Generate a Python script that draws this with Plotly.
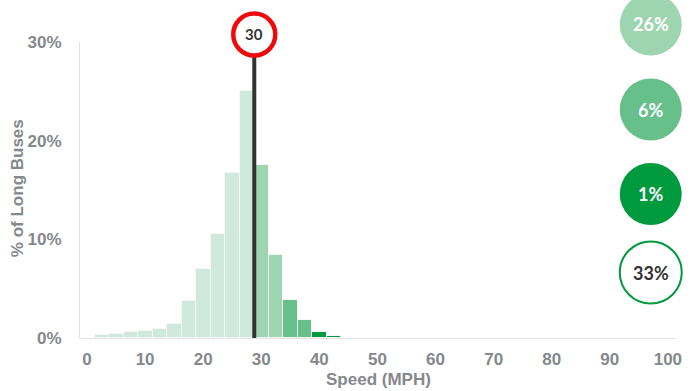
import plotly.graph_objects as go

# Speed distribution of long buses, 2.5 MPH bins
bin_start = [2.5, 5.0, 7.5, 10.0, 12.5, 15.0, 17.5, 20.0, 22.5, 25.0, 27.5,
             30.0, 32.5, 35.0, 37.5, 40.0, 42.5]
pct_buses = [0.34, 0.44, 0.64, 0.69, 0.93, 1.44, 3.8, 6.95, 10.5, 16.7, 25.0,
             17.5, 8.4, 3.9, 1.85, 0.63, 0.25]
BIN_WIDTH = 2.5
SPEED_LIMIT = 30

x_ticks = [0, 10, 20, 30, 40, 50, 60, 70, 80, 90, 100]
y_ticks = [0, 10, 20, 30]

# Over-the-limit bands: (low, high, colour)
bands = [(30, 35, "#9dd5b1"), (35, 40, "#67bf89"), (40, 45, "#009a3e")]
UNDER_COLOR = "#cfe9df"
GRAY = "#85888c"

def bar_color(start):
    for lo, hi, c in bands:
        if lo <= start < hi:
            return c
    return UNDER_COLOR

centers = [s + BIN_WIDTH / 2 for s in bin_start]
colors = [bar_color(s) for s in bin_start]

fig = go.Figure(go.Bar(
    x=centers, y=pct_buses, width=BIN_WIDTH,
    marker=dict(color=colors, line=dict(color="#f4f6f5", width=1)),
    hoverinfo="skip",
))

W, H = 691, 391
ML, MR, MT, MB = 80, 9, 42, 53
plot_w = W - ML - MR
plot_h = H - MT - MB

fig.update_layout(
    width=W, height=H,
    margin=dict(l=ML, r=MR, t=MT, b=MB),
    paper_bgcolor="white", plot_bgcolor="white",
    showlegend=False, bargap=0,
    font=dict(family="Liberation Sans, Arial, sans-serif", color=GRAY),
)

tick_font = dict(size=17, color=GRAY, family="Liberation Sans, Arial", weight="bold")
fig.update_xaxes(
    range=[0, 102.6], tickvals=x_ticks, ticktext=[str(v) for v in x_ticks],
    showgrid=False, zeroline=False, showline=True, linecolor="#e3e3e3",
    linewidth=1, ticks="", ticklabelshift=7, ticklabelstandoff=6,
    tickfont=tick_font,
)
fig.update_yaxes(
    range=[0, 30], tickvals=y_ticks, ticktext=[f"{v}%" for v in y_ticks],
    showgrid=False, zeroline=False, showline=True, linecolor="#e3e3e3",
    linewidth=1, ticks="", ticklabelstandoff=14,
    tickfont=tick_font,
)

def py(pix):
    """Pixel row in the page -> paper y."""
    return (H - MB - pix) / plot_h

def px(pix):
    """Pixel column in the page -> paper x."""
    return (pix - ML) / plot_w

def label(text, x, y, size, color, family=None, angle=0, xref="paper"):
    font = dict(size=size, color=color)
    if family:
        font["family"] = family
    fig.add_annotation(text=text, xref=xref, yref="paper", x=x, y=y,
                       xanchor="center", yanchor="middle", textangle=angle,
                       showarrow=False, font=font)

# Axis titles
label("<b>Speed (MPH)</b>", 0.5, py(379), 17, GRAY)
label("<b>% of Long Buses</b>", px(16.5), py(188), 17, GRAY, angle=-90)

# Speed-limit marker: vertical line topped with a red sign
sign_y = py(34.5)
fig.add_shape(type="line", xref="x", yref="paper", x0=SPEED_LIMIT, x1=SPEED_LIMIT,
              y0=0, y1=sign_y, line=dict(color="#333333", width=4))
fig.add_shape(type="circle", xref="x", yref="paper",
              xsizemode="pixel", ysizemode="pixel",
              xanchor=SPEED_LIMIT, yanchor=sign_y,
              x0=-21, x1=21, y0=-21, y1=21,
              fillcolor="white", line=dict(color="#ee0a0a", width=4.5))
label(f"<b>{SPEED_LIMIT}</b>", SPEED_LIMIT, sign_y, 15, "#333333",
      family="Lato, Open Sans", xref="x")

# Share of buses in each over-limit band, plus the total
band_share = []
for lo, hi, c in bands:
    s = sum(v for st, v in zip(bin_start, pct_buses) if lo <= st < hi)
    band_share.append((s, c))
total_over = sum(v for st, v in zip(bin_start, pct_buses) if st >= SPEED_LIMIT)

circle_x = px(656.5)
circle_rows = [24.5, 109.5, 194, 272.5]
items = band_share + [(total_over, None)]
for (share, c), row in zip(items, circle_rows):
    cy = py(row)
    if c is None:
        fill, edge, ew, tc = "white", "#009a3e", 2, "#333333"
    else:
        fill, edge, ew, tc = c, c, 0, "white"
    fig.add_shape(type="circle", xref="paper", yref="paper",
                  xsizemode="pixel", ysizemode="pixel",
                  xanchor=circle_x, yanchor=cy,
                  x0=-31, x1=31, y0=-31, y1=31,
                  fillcolor=fill, line=dict(color=edge, width=ew))
    label(f"<b>{round(share)}%</b>", circle_x, cy, 18, tc, family="Lato, Open Sans")

fig.write_html("out.html")
